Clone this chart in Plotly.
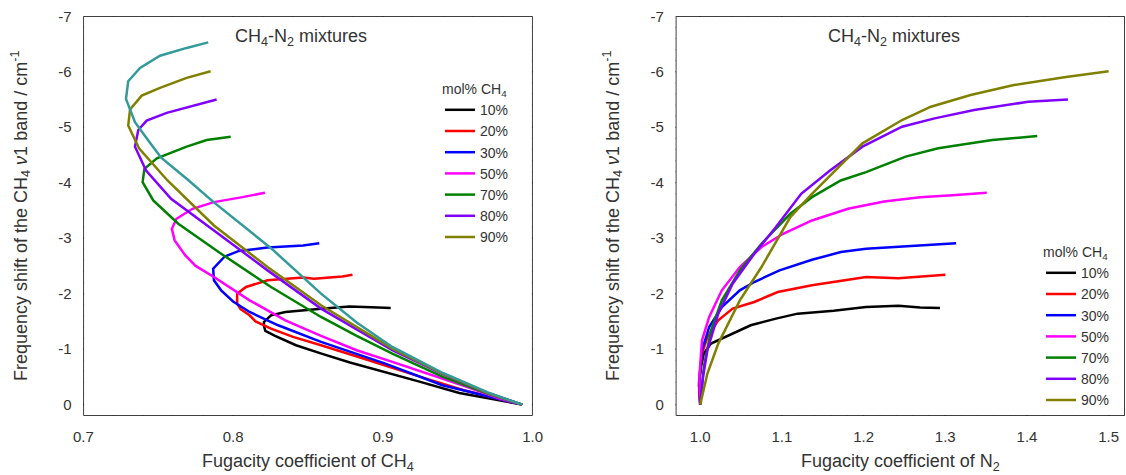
import numpy as np
import plotly.graph_objects as go

# ---------------- data ----------------
mix_labels = ["10%", "20%", "30%", "50%", "70%", "80%", "90%"]
mix_colors = ["#000000", "#ff0000", "#0000ff", "#ff00ff", "#008000", "#8000ff", "#808000"]
pure_color = "#339a9a"

# Left panel: fugacity coefficient of CH4 vs. band shift
phi_ch4_10 = [0.993, 0.970, 0.951, 0.925, 0.899, 0.878, 0.859, 0.842, 0.828, 0.8215, 0.8206, 0.8206, 0.8253, 0.8349, 0.8587, 0.8777, 0.8968, 0.9052]
shift_ch4_10 = [0, -0.11, -0.21, -0.41, -0.60, -0.76, -0.92, -1.07, -1.24, -1.33, -1.42, -1.49, -1.61, -1.67, -1.73, -1.77, -1.75, -1.74]

phi_ch4_20 = [0.993, 0.975, 0.954, 0.930, 0.9016, 0.880, 0.8587, 0.840, 0.8253, 0.815, 0.811, 0.805, 0.8027, 0.8027, 0.8086, 0.823, 0.8468, 0.854, 0.873, 0.8797]
shift_ch4_20 = [0, -0.12, -0.26, -0.46, -0.71, -0.89, -1.07, -1.22, -1.37, -1.50, -1.61, -1.72, -1.82, -2.00, -2.12, -2.24, -2.29, -2.27, -2.31, -2.34]

phi_ch4_30 = [0.993, 0.970, 0.9397, 0.9016, 0.880, 0.8587, 0.8301, 0.811, 0.800, 0.792, 0.7872, 0.7867, 0.7944, 0.8039, 0.823, 0.8468, 0.8575]
shift_ch4_30 = [0, -0.15, -0.35, -0.74, -0.93, -1.13, -1.43, -1.67, -1.86, -2.06, -2.24, -2.45, -2.67, -2.77, -2.83, -2.87, -2.91]

phi_ch4_50 = [0.993, 0.978, 0.955, 0.9302, 0.9063, 0.8825, 0.8587, 0.8349, 0.811, 0.7872, 0.775, 0.7681, 0.761, 0.7591, 0.7622, 0.7729, 0.7872, 0.8063, 0.8213]
shift_ch4_50 = [0, -0.11, -0.33, -0.56, -0.77, -0.98, -1.24, -1.52, -1.88, -2.30, -2.50, -2.69, -2.96, -3.17, -3.35, -3.53, -3.65, -3.74, -3.82]

phi_ch4_70 = [0.993, 0.970, 0.940, 0.9063, 0.8825, 0.8587, 0.8253, 0.792, 0.7634, 0.7467, 0.7396, 0.7408, 0.7491, 0.769, 0.7824, 0.7984]
shift_ch4_70 = [0, -0.20, -0.50, -0.92, -1.24, -1.58, -2.12, -2.72, -3.26, -3.68, -4.01, -4.25, -4.44, -4.65, -4.77, -4.83]

phi_ch4_80 = [0.993, 0.970, 0.940, 0.9063, 0.8587, 0.823, 0.7872, 0.7586, 0.7419, 0.7345, 0.7367, 0.7423, 0.7557, 0.7734, 0.789]
shift_ch4_80 = [0, -0.21, -0.55, -0.98, -1.73, -2.42, -3.14, -3.71, -4.22, -4.65, -4.95, -5.12, -5.26, -5.39, -5.50]

phi_ch4_90 = [0.993, 0.970, 0.940, 0.9063, 0.8587, 0.823, 0.7872, 0.7562, 0.7372, 0.7300, 0.7312, 0.739, 0.7512, 0.769, 0.785]
shift_ch4_90 = [0, -0.21, -0.56, -1.01, -1.79, -2.48, -3.23, -4.04, -4.62, -5.03, -5.32, -5.57, -5.71, -5.89, -6.01]

phi_ch4_100 = [0.993, 0.970, 0.940, 0.9063, 0.8825, 0.8587, 0.8253, 0.787, 0.770, 0.752, 0.7445, 0.7345, 0.7285, 0.730, 0.7379, 0.7512, 0.769, 0.7834]
shift_ch4_100 = [0, -0.22, -0.57, -1.04, -1.48, -2.00, -2.82, -3.65, -4.05, -4.45, -4.72, -5.09, -5.51, -5.83, -6.07, -6.29, -6.43, -6.53]

# Right panel: fugacity coefficient of N2 vs. band shift
phi_n2_10 = [1.0, 0.9985, 1.0009, 1.0044, 1.0132, 1.0265, 1.0485, 1.0618, 1.0927, 1.1192, 1.1633, 1.203, 1.2427, 1.2692, 1.2935]
shift_n2_10 = [0, -0.35, -0.68, -0.92, -1.10, -1.19, -1.34, -1.43, -1.55, -1.64, -1.69, -1.76, -1.78, -1.75, -1.74]

phi_n2_20 = [1.0, 0.9985, 1.0022, 1.0088, 1.0221, 1.0397, 1.0662, 1.095, 1.1368, 1.181, 1.203, 1.2427, 1.2692, 1.3001]
shift_n2_20 = [0, -0.40, -0.92, -1.22, -1.52, -1.73, -1.85, -2.03, -2.15, -2.25, -2.30, -2.28, -2.31, -2.34]

phi_n2_30 = [1.0, 0.999, 1.0022, 1.011, 1.0265, 1.0485, 1.0662, 1.0971, 1.1368, 1.1721, 1.203, 1.2471, 1.2913, 1.3133]
shift_n2_30 = [0, -0.45, -0.98, -1.40, -1.76, -2.06, -2.21, -2.42, -2.61, -2.75, -2.81, -2.85, -2.89, -2.91]

phi_n2_50 = [1.0, 0.999, 1.0022, 1.011, 1.0265, 1.0485, 1.075, 1.1015, 1.1368, 1.181, 1.2251, 1.2692, 1.3133, 1.3508]
shift_n2_50 = [0, -0.50, -1.16, -1.58, -2.06, -2.48, -2.84, -3.08, -3.32, -3.53, -3.66, -3.74, -3.78, -3.82]

phi_n2_70 = [1.0, 1.0044, 1.0132, 1.0265, 1.0485, 1.075, 1.1103, 1.1368, 1.1721, 1.203, 1.2515, 1.2913, 1.3575, 1.4126]
shift_n2_70 = [0, -0.68, -1.34, -1.88, -2.42, -2.90, -3.44, -3.74, -4.04, -4.19, -4.47, -4.62, -4.77, -4.84]

phi_n2_80 = [1.0, 1.0035, 1.0088, 1.0221, 1.0397, 1.0662, 1.0927, 1.1236, 1.1589, 1.1986, 1.2471, 1.2869, 1.3354, 1.4016, 1.4501]
shift_n2_80 = [0, -0.50, -0.98, -1.64, -2.18, -2.72, -3.20, -3.80, -4.22, -4.65, -5.01, -5.16, -5.31, -5.46, -5.50]

phi_n2_90 = [1.0, 1.0088, 1.0221, 1.0485, 1.075, 1.1103, 1.1368, 1.1633, 1.1986, 1.2471, 1.2824, 1.331, 1.384, 1.4457, 1.5]
shift_n2_90 = [0, -0.56, -1.10, -1.88, -2.48, -3.38, -3.80, -4.19, -4.71, -5.13, -5.37, -5.58, -5.76, -5.90, -6.01]

x1_ticks = [0.7, 0.8, 0.9, 1.0]
x1_ticktext = ["0.7", "0.8", "0.9", "1.0"]
x2_ticks = [1.0, 1.1, 1.2, 1.3, 1.4, 1.5]
x2_ticktext = ["1.0", "1.1", "1.2", "1.3", "1.4", "1.5"]
y_ticks = [0, -1, -2, -3, -4, -5, -6, -7]
y_ticktext = ["0", "-1", "-2", "-3", "-4", "-5", "-6", "-7"]

# minor tick positions (every 0.02 on x, every 0.2 on y)
x1_minor = [round(v, 3) for v in np.arange(0.72, 0.9801, 0.02)]
x2_minor = [round(v, 3) for v in np.arange(0.98, 1.5001, 0.02)]
y_minor = [round(v, 2) for v in np.arange(-6.8, 0.0001, 0.2)]

# ---------------- figure ----------------
FONT = "Liberation Sans, Arial, sans-serif"
TXT = "#333333"
AX = "black"
CLEAR = "rgba(0,0,0,0)"
W, H = 1126, 475

left_x = [phi_ch4_10, phi_ch4_20, phi_ch4_30, phi_ch4_50, phi_ch4_70, phi_ch4_80, phi_ch4_90]
left_y = [shift_ch4_10, shift_ch4_20, shift_ch4_30, shift_ch4_50, shift_ch4_70, shift_ch4_80, shift_ch4_90]
right_x = [phi_n2_10, phi_n2_20, phi_n2_30, phi_n2_50, phi_n2_70, phi_n2_80, phi_n2_90]
right_y = [shift_n2_10, shift_n2_20, shift_n2_30, shift_n2_50, shift_n2_70, shift_n2_80, shift_n2_90]


def px_x(p):
    return p / W


def px_y(p):
    return (H - p) / H


# panel geometry (pixels) and axis ranges
Y_PX = (16.3, 415.7)
X1_PX = (83.3, 532.7)
X2_PX = (675.7, 1125.0)
y_dom = [px_y(Y_PX[1]), px_y(Y_PX[0])]
x1_dom = [px_x(X1_PX[0]), px_x(X1_PX[1])]
x2_dom = [px_x(X2_PX[0]), px_x(X2_PX[1])]
x1_range = [0.7, 1.0]
x2_range = [0.97, 1.52]
y_range = [0.2, -7]

fig = go.Figure()

for xs, ys, name, col in zip(left_x, left_y, mix_labels, mix_colors):
    fig.add_trace(go.Scatter(x=xs, y=ys, mode="lines", name=name,
                             line=dict(color=col, width=2.5),
                             xaxis="x", yaxis="y", legend="legend"))
fig.add_trace(go.Scatter(x=phi_ch4_100, y=shift_ch4_100, mode="lines", name="100%",
                         line=dict(color=pure_color, width=2.5),
                         xaxis="x", yaxis="y", showlegend=False))

for xs, ys, name, col in zip(right_x, right_y, mix_labels, mix_colors):
    fig.add_trace(go.Scatter(x=xs, y=ys, mode="lines", name=name,
                             line=dict(color=col, width=2.5),
                             xaxis="x2", yaxis="y2", legend="legend2"))


def tick_segments(xr, yr, kx, ky, xvals, yvals, length):
    """Outward tick segments on all four sides of a box panel."""
    dx, dy = length / kx, length / ky
    xs, ys = [], []
    for v in xvals:
        xs += [v, v, None, v, v, None]
        ys += [yr[0], yr[0] + dy, None, yr[1], yr[1] - dy, None]
    for v in yvals:
        xs += [xr[0], xr[0] - dx, None, xr[1], xr[1] + dx, None]
        ys += [v, v, None, v, v, None]
    return xs, ys


def add_box(xa, ya, xr, yr, xpx, xmaj, xmin):
    kx = (xpx[1] - xpx[0]) / (xr[1] - xr[0])
    ky = (Y_PX[1] - Y_PX[0]) / (yr[0] - yr[1])
    common = dict(mode="lines", xaxis=xa, yaxis=ya, showlegend=False,
                  hoverinfo="skip", cliponaxis=False)
    # frame
    fig.add_trace(go.Scatter(x=[xr[0], xr[1], xr[1], xr[0], xr[0]],
                             y=[yr[0], yr[0], yr[1], yr[1], yr[0]],
                             line=dict(color=AX, width=1.5), **common))
    # major and minor ticks
    mx, my = tick_segments(xr, yr, kx, ky, xmaj, y_ticks, 7)
    fig.add_trace(go.Scatter(x=mx, y=my, line=dict(color=AX, width=1.5), **common))
    nx, ny = tick_segments(xr, yr, kx, ky, xmin, y_minor, 4)
    fig.add_trace(go.Scatter(x=nx, y=ny, line=dict(color=AX, width=1.2), **common))


add_box("x", "y", x1_range, y_range, X1_PX, x1_ticks, x1_minor)
add_box("x2", "y2", x2_range, y_range, X2_PX, x2_ticks, x2_minor)

tick_font = dict(family=FONT, size=15, color=TXT)

# axes carry the tick labels; the box and tick marks are drawn above
axis_style = dict(showline=True, linewidth=1.5, linecolor=CLEAR, mirror=False,
                  ticks="outside", ticklen=7, tickwidth=1.5, tickcolor=CLEAR,
                  showgrid=False, zeroline=False,
                  tickmode="array", automargin=False, tickfont=tick_font)

legend_common = dict(xanchor="left", yanchor="top", bgcolor="rgba(0,0,0,0)", borderwidth=0,
                     font=dict(family=FONT, size=14, color=TXT),
                     title=dict(text="mol% CH<sub>4</sub>", font=dict(family=FONT, size=14, color=TXT)))

fig.update_layout(
    width=W, height=H,
    margin=dict(l=0, r=0, t=0, b=0),
    paper_bgcolor="white", plot_bgcolor="white",
    font=dict(family=FONT, color=TXT),
    xaxis=dict(domain=x1_dom, range=x1_range, anchor="y",
               tickvals=x1_ticks, ticktext=x1_ticktext, **axis_style),
    yaxis=dict(domain=y_dom, range=y_range, anchor="x",
               tickvals=y_ticks, ticktext=y_ticktext, **axis_style),
    xaxis2=dict(domain=x2_dom, range=x2_range, anchor="y2",
                tickvals=x2_ticks, ticktext=x2_ticktext, **axis_style),
    yaxis2=dict(domain=y_dom, range=y_range, anchor="x2",
                tickvals=y_ticks, ticktext=y_ticktext, **axis_style),
    legend=dict(x=px_x(440), y=px_y(76), **legend_common),
    legend2=dict(x=px_x(1041), y=px_y(239), **legend_common),
)

title_font = dict(family=FONT, size=18, color=TXT)
annotations = [
    dict(text="CH<sub>4</sub>-N<sub>2</sub> mixtures", x=px_x(301), y=px_y(38)),
    dict(text="CH<sub>4</sub>-N<sub>2</sub> mixtures", x=px_x(894), y=px_y(38)),
    dict(text="Fugacity coefficient of CH<sub>4</sub>", x=px_x(308), y=px_y(462)),
    dict(text="Fugacity coefficient of N<sub>2</sub>", x=px_x(900), y=px_y(462)),
    dict(text="Frequency shift of the CH<sub>4</sub> <i>ν</i>1 band / cm<sup>-1</sup>",
         x=px_x(21), y=px_y(216), textangle=-90),
    dict(text="Frequency shift of the CH<sub>4</sub> <i>ν</i>1 band / cm<sup>-1</sup>",
         x=px_x(613), y=px_y(216), textangle=-90),
]
for a in annotations:
    fig.add_annotation(xref="paper", yref="paper", showarrow=False,
                       xanchor="center", yanchor="middle", font=title_font, **a)

fig.write_html("out.html")
